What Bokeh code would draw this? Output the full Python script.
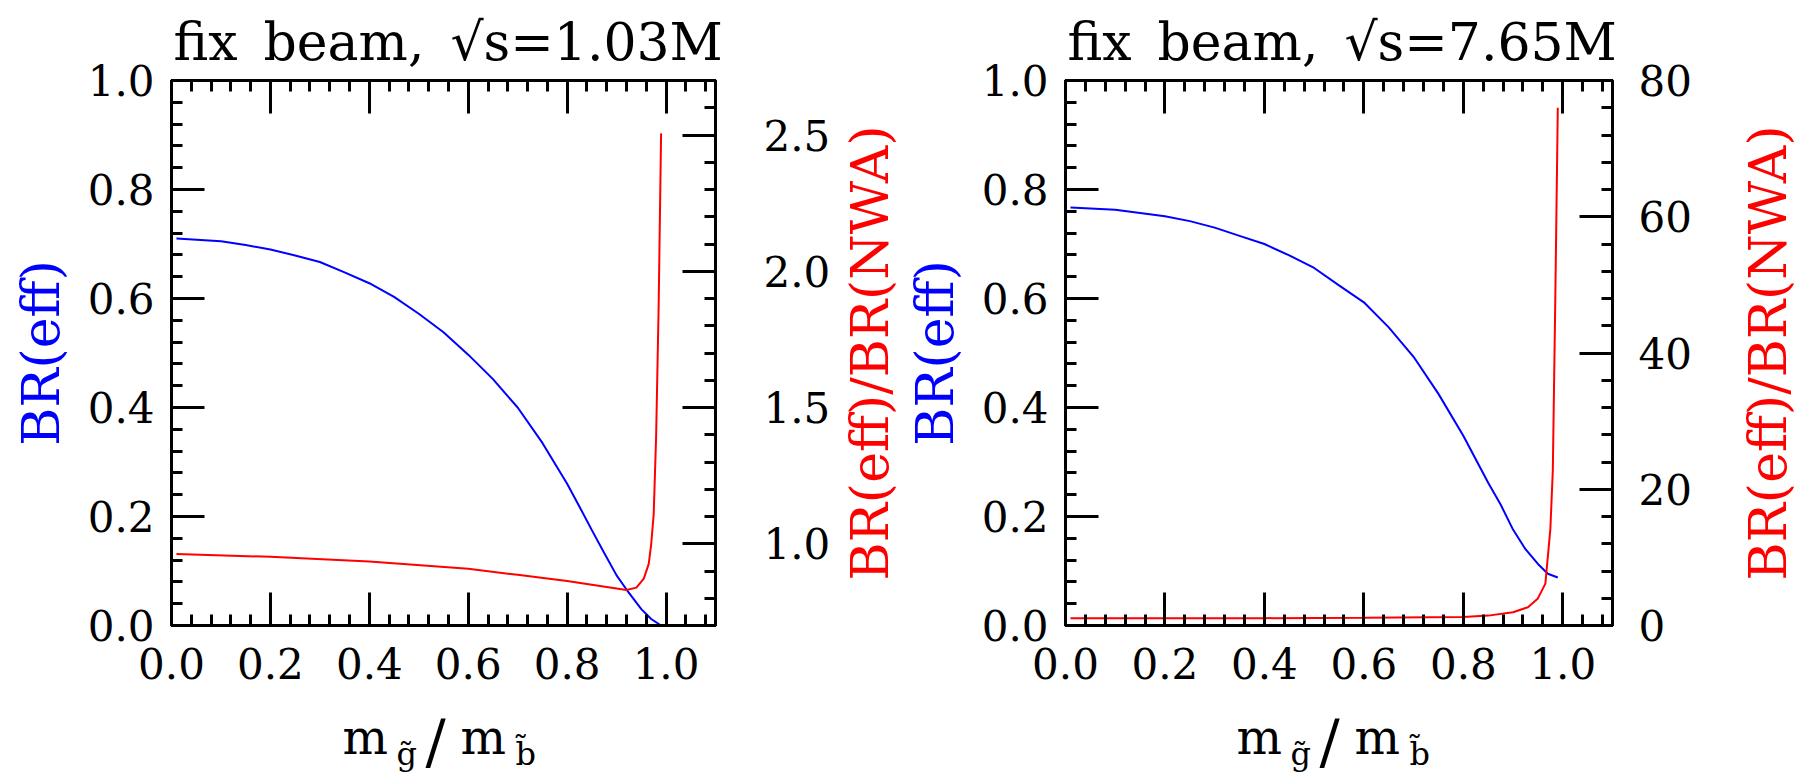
import math
from bokeh.plotting import figure
from bokeh.models import Range1d, LinearAxis, SingleIntervalTicker, PrintfTickFormatter, Label
from bokeh.layouts import row, column
from bokeh.embed import file_html
from bokeh.resources import INLINE

# ---------------- data ----------------
titles = ["fix\u2002beam,\u2002\u221as=1.03M", "fix\u2002beam,\u2002\u221as=7.65M"]

# left panel: sqrt(s) = 1.03 M
left_blue_x = [0.01, 0.1, 0.15, 0.2, 0.25, 0.3, 0.35, 0.4, 0.45, 0.5, 0.55, 0.6, 0.65, 0.7, 0.75, 0.8, 0.825, 0.85, 0.875, 0.9, 0.92, 0.95, 0.97, 0.99]
left_blue_y = [0.710, 0.705, 0.698, 0.690, 0.679, 0.667, 0.648, 0.628, 0.603, 0.572, 0.538, 0.497, 0.452, 0.400, 0.335, 0.260, 0.218, 0.175, 0.133, 0.092, 0.066, 0.030, 0.012, 0.0]
left_red_x = [0.01, 0.2, 0.4, 0.6, 0.7, 0.8, 0.9, 0.92, 0.94, 0.955, 0.965, 0.97, 0.975, 0.98, 0.985, 0.99]
left_red_y = [0.962, 0.952, 0.935, 0.908, 0.886, 0.863, 0.836, 0.830, 0.839, 0.872, 0.926, 0.999, 1.107, 1.397, 1.867, 2.506]

# right panel: sqrt(s) = 7.65 M
right_blue_x = [0.01, 0.1, 0.15, 0.2, 0.25, 0.3, 0.35, 0.4, 0.45, 0.5, 0.55, 0.6, 0.65, 0.7, 0.75, 0.8, 0.85, 0.875, 0.9, 0.925, 0.95, 0.97, 0.99]
right_blue_y = [0.767, 0.763, 0.757, 0.751, 0.742, 0.730, 0.715, 0.700, 0.679, 0.656, 0.624, 0.593, 0.547, 0.493, 0.425, 0.348, 0.262, 0.222, 0.176, 0.140, 0.113, 0.095, 0.088]
right_red_x = [0.01, 0.2, 0.4, 0.6, 0.8, 0.85, 0.9, 0.93, 0.95, 0.965, 0.975, 0.98, 0.985, 0.99]
right_red_y = [1.05, 1.06, 1.08, 1.12, 1.23, 1.45, 1.95, 2.68, 3.98, 6.15, 14.1, 22.8, 48.1, 76.0]

x_range = (0.0, 1.1)
y_range = (0.0, 1.0)
ratio_ranges = [(0.7, 2.7), (0.0, 80.0)]
ratio_intervals = [0.5, 20]
ratio_formats = ["%.1f", "%d"]
y_label = "BR(eff)"
ratio_label = "BR(eff)/BR(NWA)"

FONT = "DejaVu Serif"
BLUE = "#0000ff"
RED = "#ff0000"
TOP, FRAME_H, BOTTOM, XLAB_H = 80, 545, 76, 75


def style_axis(ax, standoff, show=True):
    ax.major_tick_in = 33
    ax.major_tick_out = 0
    ax.minor_tick_in = 11
    ax.minor_tick_out = 0
    ax.major_tick_line_width = 3
    ax.minor_tick_line_width = 3
    ax.axis_line_width = 3
    ax.major_tick_line_color = "black"
    ax.minor_tick_line_color = "black"
    ax.axis_line_color = "black"
    ax.major_label_text_font = FONT
    if show:
        ax.major_label_text_font_size = "42px"
        ax.major_label_text_color = "black"
    else:
        ax.major_label_text_font_size = "0px"
        ax.major_label_text_color = None
    ax.major_label_standoff = standoff
    ax.axis_label_text_font = FONT
    ax.axis_label_text_font_size = "52px"
    ax.axis_label_text_font_style = "normal"


def blank(fig):
    fig.xgrid.grid_line_color = None
    fig.ygrid.grid_line_color = None
    fig.outline_line_color = None
    fig.background_fill_color = "white"
    fig.border_fill_color = "white"


def make_panel(idx, bx, by, rx, ry, border_left, frame_w, border_right, r_standoff, strip_w):
    p = figure(frame_width=frame_w, frame_height=FRAME_H,
               min_border_left=border_left, min_border_right=border_right,
               min_border_top=TOP, min_border_bottom=BOTTOM,
               x_range=Range1d(*x_range), y_range=Range1d(*y_range),
               x_axis_location=None, y_axis_location=None,
               output_backend="svg", toolbar_location=None)
    blank(p)
    p.outline_line_color = "black"
    p.outline_line_width = 3
    p.extra_y_ranges = {"r": Range1d(*ratio_ranges[idx])}

    p.title.text = titles[idx]
    p.title.text_font = FONT
    p.title.text_font_size = "52px"
    p.title.text_font_style = "normal"
    p.title.text_color = "black"
    p.title.align = "left"
    p.title.offset = 2
    p.title.standoff = 17

    bottom = LinearAxis(ticker=SingleIntervalTicker(interval=0.2, num_minor_ticks=5),
                        formatter=PrintfTickFormatter(format="%.1f"))
    style_axis(bottom, 22)
    p.add_layout(bottom, "below")
    top = LinearAxis(ticker=SingleIntervalTicker(interval=0.2, num_minor_ticks=5),
                     formatter=PrintfTickFormatter(format="%.1f"))
    style_axis(top, 0, show=False)
    p.add_layout(top, "above")
    left = LinearAxis(ticker=SingleIntervalTicker(interval=0.2, num_minor_ticks=5),
                      formatter=PrintfTickFormatter(format="%.1f"),
                      axis_label=y_label)
    style_axis(left, 17)
    left.axis_label_text_color = BLUE
    left.axis_label_standoff = 14
    p.add_layout(left, "left")
    right = LinearAxis(y_range_name="r",
                       ticker=SingleIntervalTicker(interval=ratio_intervals[idx], num_minor_ticks=5),
                       formatter=PrintfTickFormatter(format=ratio_formats[idx]))
    style_axis(right, r_standoff)
    p.add_layout(right, "right")

    p.line(bx, by, line_color=BLUE, line_width=2)
    p.line(rx, ry, line_color=RED, line_width=2, y_range_name="r")

    # strip below the panel holding the x-axis label m_g~ / m_b~
    q = figure(frame_width=frame_w, frame_height=XLAB_H,
               min_border_left=border_left, min_border_right=border_right,
               min_border_top=0, min_border_bottom=0,
               x_axis_location=None, y_axis_location=None,
               x_range=Range1d(0, 1), y_range=Range1d(0, 1),
               output_backend="svg", toolbar_location=None)
    q.title = None
    blank(q)

    def lab(fig, text, x, y, size, color="black", angle=0.0, align="left", baseline="middle"):
        fig.add_layout(Label(x=x, y=y, x_units="screen", y_units="screen", text=text,
                             text_font=FONT, text_font_size=size, text_color=color, angle=angle,
                             text_align=align, text_baseline=baseline))

    lab(q, "m", 171, 40, "48px")
    lab(q, "g\u0303", 225, 23, "32px")
    lab(q, "/", 254, 36, "60px")
    lab(q, "m", 289, 40, "48px")
    lab(q, "b\u0303", 344, 23, "32px")

    # strip right of the panel holding the ratio axis label
    s = figure(frame_width=strip_w, frame_height=FRAME_H,
               min_border_left=0, min_border_right=0,
               min_border_top=TOP, min_border_bottom=BOTTOM + XLAB_H,
               x_axis_location=None, y_axis_location=None,
               x_range=Range1d(0, 1), y_range=Range1d(0, 1),
               output_backend="svg", toolbar_location=None)
    s.title = None
    blank(s)
    lab(s, ratio_label, strip_w / 2, FRAME_H / 2, "52px", RED, math.pi / 2, "center", "middle")

    return column(p, q), s


c1, s1 = make_panel(0, left_blue_x, left_blue_y, left_red_x, left_red_y, 171, 544, 125, 48, 58)
c2, s2 = make_panel(1, right_blue_x, right_blue_y, right_red_x, right_red_y, 167, 547, 126, 26, 58)

layout = row(c1, s1, c2, s2)
open("out.html", "w").write(file_html(layout, INLINE))
